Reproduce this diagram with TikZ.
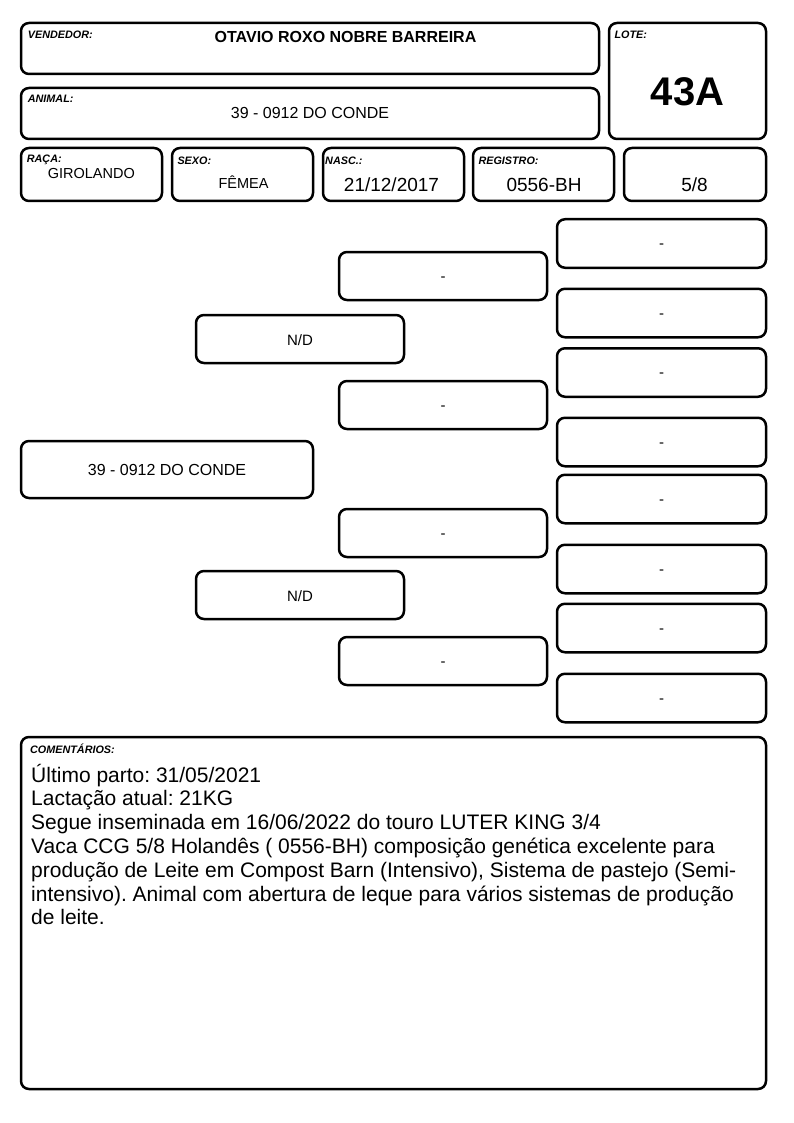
\documentclass[tikz,border=0pt]{standalone}
\usepackage{fontspec}
\setmainfont{Liberation Sans}
\frenchspacing
\begin{document}
\begin{tikzpicture}[x=1pt,y=-1pt,
  box/.style={draw, line width=2.5pt, rounded corners=8pt, inner sep=0pt, outer sep=0pt},
  lbl/.style={font=\fontsize{10.8}{12}\selectfont\bfseries\itshape, anchor=base west, inner sep=0pt},
  val/.style={anchor=base, inner sep=0pt},
  ped/.style={box, minimum width=208pt, minimum height=48pt, font=\fontsize{15}{17}\selectfont},
  pedg/.style={box, minimum width=209pt, minimum height=48.5pt, font=\fontsize{15}{17}\selectfont},
  cline/.style={anchor=base west, inner sep=0pt, font=\fontsize{21}{24}\selectfont}
]
\fill[white] (0,0) rectangle (794,1123);
\useasboundingbox (0,0) rectangle (794,1123);

% header boxes
\node[box, minimum width=578pt, minimum height=51pt] (vend) at (310,48.5) {};
\node[box, minimum width=578pt, minimum height=51pt] (anim) at (310,113.5) {};
\node[box, minimum width=157pt, minimum height=116pt] (lote) at (687.5,81) {};
\node[box, minimum width=141pt, minimum height=53pt] (raca) at (91.5,174.5) {};
\node[box, minimum width=141pt, minimum height=53pt] (sexo) at (242.5,174.5) {};
\node[box, minimum width=141pt, minimum height=53pt] (nasc) at (393.5,174.5) {};
\node[box, minimum width=141pt, minimum height=53pt] (reg) at (543.5,174.5) {};
\node[box, minimum width=142pt, minimum height=53pt] (grau) at (695,174.5) {};

% labels
\node[lbl] (lvend) at (27.7,39) {VENDEDOR:};
\node[lbl] (lanim) at (27.7,103) {ANIMAL:};
\node[lbl] (llote) at (614.3,39) {LOTE:};
\node[lbl] (lraca) at (26.7,162.5) {RAÇA:};
\node[lbl] (lsexo) at (177.3,165) {SEXO:};
\node[lbl] (lnasc) at (325,165) {NASC.:};
\node[lbl] (lreg) at (478.3,165) {REGISTRO:};

% values
\node[val, font=\fontsize{16}{18}\selectfont\bfseries] (vvend) at (345.5,42.3) {OTAVIO ROXO NOBRE BARREIRA};
\node[val, font=\fontsize{16}{18}\selectfont] (vanim) at (310,119) {39 - 0912 DO CONDE};
\node[val, font=\fontsize{40}{44}\selectfont\bfseries] (vlote) at (687.5,105.7) {43A};
\node[val, font=\fontsize{14.5}{16}\selectfont] (vraca) at (91.3,178.3) {GIROLANDO};
\node[val, font=\fontsize{14.5}{16}\selectfont] (vsexo) at (243.5,189) {FÊMEA};
\node[val, font=\fontsize{19}{21}\selectfont] (vnasc) at (391.5,191.7) {21/12/2017};
\node[val, font=\fontsize{19}{21}\selectfont] (vreg) at (544,192) {0556-BH};
\node[val, font=\fontsize{19}{21}\selectfont] (vgrau) at (694.5,192) {5/8};

% pedigree boxes
\node[box, minimum width=292pt, minimum height=57pt] (p1) at (167,469.5) {};
\node[ped] (p2a) at (300,339) {};
\node[ped] (p2b) at (300,595) {};
\node[ped] (p3a) at (443,276) {};
\node[ped] (p3b) at (443,405) {};
\node[ped] (p3c) at (443,533) {};
\node[ped] (p3d) at (443,661) {};
\node[pedg] (p4a) at (661.5,243.5) {};
\node[pedg] (p4b) at (661.5,313) {};
\node[pedg] (p4c) at (661.5,372.5) {};
\node[pedg] (p4d) at (661.5,442) {};
\node[pedg] (p4e) at (661.5,499) {};
\node[pedg] (p4f) at (661.5,569) {};
\node[pedg] (p4g) at (661.5,628) {};
\node[pedg] (p4h) at (661.5,698) {};

% pedigree texts
\node[val, font=\fontsize{16}{18}\selectfont] (t1) at ([yshift=-6pt]p1.center) {39 - 0912 DO CONDE};
\node[val, font=\fontsize{15}{17}\selectfont] (t2a) at ([yshift=-6.5pt]p2a.center) {N/D};
\node[val, font=\fontsize{15}{17}\selectfont] (t2b) at ([yshift=-6.5pt]p2b.center) {N/D};
\foreach \n in {p3a,p3b,p3c,p3d,p4a,p4b,p4c,p4d,p4e,p4f,p4g,p4h}
  \node[val, font=\fontsize{15}{17}\selectfont] (t\n) at ([yshift=-5pt]\n.center) {-};

% comments
\node[box, minimum width=745pt, minimum height=352pt] (com) at (393.5,913) {};
\node[lbl] (lcom) at (30,753) {COMENTÁRIOS:};
\node[cline] (c1) at (31,782) {Último parto: 31/05/2021};
\node[cline] (c2) at (31,805.8) {Lactação atual: 21KG};
\node[cline] (c3) at (31,829.6) {Segue inseminada em 16/06/2022 do touro LUTER KING 3/4};
\node[cline] (c4) at (31,853.4) {Vaca CCG 5/8 Holandês ( 0556-BH) composição genética excelente para};
\node[cline] (c5) at (31,877.2) {produção de Leite em Compost Barn (Intensivo), Sistema de pastejo (Semi-};
\node[cline] (c6) at (31,901) {intensivo). Animal com abertura de leque para vários sistemas de produção};
\node[cline] (c7) at (31,924.8) {de leite.};
\end{tikzpicture}
\end{document}
